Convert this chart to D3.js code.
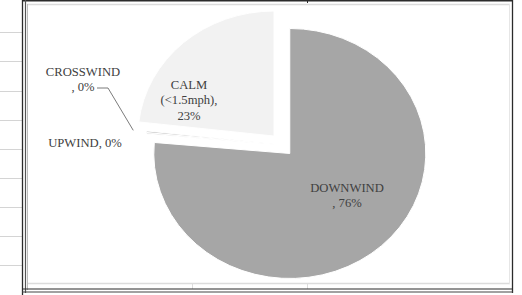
<!DOCTYPE html>
<html lang='en'>
<head>
    <meta charset='UTF-8'>
    <script src='https://d3js.org/d3.v7.min.js'></script>
    <title>Wind direction</title>
    <style>
      body { margin: 0; background: #fff; }
      text { font-family: 'Liberation Serif', 'Times New Roman', serif; font-size: 11.5px; fill: #404040; }
    </style>
</head>
<body>
<svg id='chart' width='522' height='295'></svg>

<script>
// wind categories, in the order excel draws them (clockwise from 12 o'clock)
const categories = ['DOWNWIND', 'UPWIND', 'CROSSWIND', 'CALM (<1.5mph)']
const shares = [76.4, 0.2, 0.2, 23.2]   // percent
const colours = ['#a6a6a6', '#d9d9d9', '#bfbfbf', '#f2f2f2']
const explode = [11.5, 0, 0, 12]        // px the slice is pulled out

// spreadsheet row lines visible left of the chart
const rowLines = [32, 61, 91, 120, 149, 178, 207, 236, 265]

;(function () {
  let svg = d3.select('#chart')

  // --- sheet behind the chart object ---
  svg.selectAll('line.row')
    .data(rowLines)
    .enter()
    .append('line')
      .attr('x1', 0).attr('x2', 22)
      .attr('y1', d => d + 0.5).attr('y2', d => d + 0.5)
      .style('stroke', '#d4d4d4')

  let frame = svg.append('g')
  let ln = (x1, y1, x2, y2, c, w) => frame.append('line')
    .attr('x1', x1).attr('y1', y1).attr('x2', x2).attr('y2', y2)
    .style('stroke', c).style('stroke-width', w)

  // inner light border of the plot
  ln(27, 4.5, 510, 4.5, '#dcdcdc', 1.5)
  ln(27, 283.5, 510, 283.5, '#dcdcdc', 1.5)
  ln(509.5, 4, 509.5, 284, '#e6e6e6', 1)
  ln(27.5, 4, 27.5, 290, '#bdbdbd', 1)
  ln(192.5, 283, 192.5, 289, '#dcdcdc', 1)
  ln(307.5, 283, 307.5, 289, '#dcdcdc', 1)
  // dark outer border
  ln(22, 0.75, 513, 0.75, '#2b2b2b', 1.5)
  ln(307.5, 0, 307.5, 3, '#2b2b2b', 1)
  ln(22.5, 0, 22.5, 295, '#2b2b2b', 1.3)
  ln(25.5, 0, 25.5, 293, '#555', 1.2)
  ln(512.5, 0, 512.5, 293, '#2b2b2b', 1.3)
  ln(22, 289, 513, 289, '#2b2b2b', 1.2)
  ln(22, 292, 513, 292, '#444', 1.2)

  // --- pie ---
  let cx = 282, cy = 145, rx = 136, ry = 125
  let data = categories.map((c, i) => ({ name: c, value: shares[i], colour: colours[i], pull: explode[i] }))
  let pie = d3.pie().sort(null).value(d => d.value)
  let arc = d3.arc().innerRadius(0).outerRadius(1)
  let slices = pie(data)

  svg.append('g')
    .selectAll('path')
    .data(slices)
    .enter()
    .append('path')
      .attr('d', arc)
      .attr('transform', d => {
        let mid = (d.startAngle + d.endAngle) / 2
        let ox = cx + d.data.pull * Math.sin(mid)
        let oy = cy - d.data.pull * Math.cos(mid)
        return `translate(${ox},${oy}) scale(${rx},${ry})`
      })
      .style('fill', d => d.data.colour)
      .style('stroke', '#fff')
      .style('stroke-width', 1)
      .attr('vector-effect', 'non-scaling-stroke')

  let pct = v => `${Math.round(v)}%`

  // labels sit where excel put them; the screenshot is a bit stretched sideways
  let labels = [
    { lines: ['DOWNWIND', ', ' + pct(shares[0])], x: 347, y: 192 },
    { lines: ['UPWIND, ' + pct(shares[1])], x: 85, y: 147 },
    { lines: ['CROSSWIND', ', ' + pct(shares[2])], x: 83, y: 76 },
    { lines: ['CALM', '(<1.5mph),', pct(shares[3])], x: 189, y: 89 }
  ]
  labels.forEach(l => {
    let t = svg.append('g')
      .attr('transform', `translate(${l.x},${l.y}) scale(1.1,1)`)
      .append('text').attr('text-anchor', 'middle')
    l.lines.forEach((s, j) => t.append('tspan').attr('x', 0).attr('y', j * 15.5).text(s))
  })

  // leader line for the crosswind sliver
  let cw = slices[2]
  let a = (cw.startAngle + cw.endAngle) / 2
  let ex = cx + rx * 1.1 * Math.sin(a), ey = cy - ry * 1.1 * Math.cos(a)
  svg.append('path')
    .attr('d', `M97,88H108L${ex},${ey}`)
    .style('fill', 'none')
    .style('stroke', '#595959')
    .style('stroke-width', 0.8)
})()
</script>
</body>
</html>
